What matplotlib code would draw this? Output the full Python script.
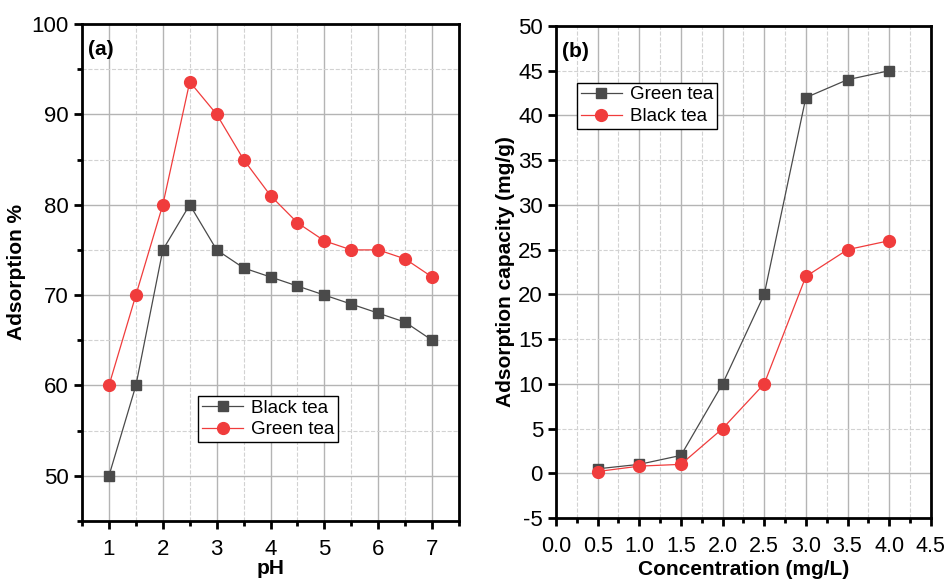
import matplotlib.pyplot as plt
import numpy as np
from matplotlib.ticker import MultipleLocator, FormatStrFormatter

plt.rcParams['font.family'] = ['Liberation Sans', 'DejaVu Sans']
plt.rcParams['axes.unicode_minus'] = False

# panel (a): adsorption % vs pH
ph = [1, 1.5, 2, 2.5, 3, 3.5, 4, 4.5, 5, 5.5, 6, 6.5, 7]
black_a = [50, 60, 75, 80, 75, 73, 72, 71, 70, 69, 68, 67, 65]
green_a = [60, 70, 80, 93.6, 90, 85, 81, 78, 76, 75, 75, 74, 72]

# panel (b): adsorption capacity vs concentration
conc = [0.5, 1.0, 1.5, 2.0, 2.5, 3.0, 3.5, 4.0]
green_b = [0.5, 1.0, 2.0, 10, 20, 42, 44, 45]
black_b = [0.2, 0.8, 1.0, 5, 10, 22, 25, 26]

gray = '#4a4a4a'
red = '#f03c3c'

fig = plt.figure(figsize=(9.44, 5.81), dpi=100)
ax1 = fig.add_axes([0.0869, 0.1033, 0.3994, 0.8554])
ax2 = fig.add_axes([0.589, 0.1084, 0.397, 0.8468])


def style(ax):
    ax.grid(True, which='major', color='#b4b4b4', linewidth=1.0)
    ax.grid(True, which='minor', color='#d2d2d2', linewidth=0.8, linestyle='--')
    ax.set_axisbelow(True)
    for s in ax.spines.values():
        s.set_linewidth(2)
    ax.tick_params(which='major', direction='out', length=6, width=2, labelsize=16)
    ax.tick_params(which='minor', direction='out', length=3.5, width=2)
    ax.tick_params(axis='x', which='both', pad=7)


ax1.plot(ph, black_a, color=gray, marker='s', markersize=7, linewidth=0.9, label='Black tea')
ax1.plot(ph, green_a, color=red, marker='o', markersize=8.5, linewidth=0.9, label='Green tea')
ax1.set_xlim(0.5, 7.5)
ax1.set_ylim(45, 100)
ax1.xaxis.set_major_locator(MultipleLocator(1))
ax1.xaxis.set_minor_locator(MultipleLocator(0.5))
ax1.yaxis.set_major_locator(MultipleLocator(10))
ax1.yaxis.set_minor_locator(MultipleLocator(5))
style(ax1)
ax1.set_xlabel('pH', fontsize=15, fontweight='bold', labelpad=-1)
ax1.set_ylabel('Adsorption %', fontsize=15, fontweight='bold', labelpad=4)
ax1.text(0.015, 0.967, '(a)', transform=ax1.transAxes, fontsize=15, fontweight='bold', va='top')
leg1 = ax1.legend(loc='upper left', bbox_to_anchor=(0.308, 0.252), fontsize=13.5, frameon=True,
                  fancybox=False, edgecolor='black', framealpha=1, borderpad=0.2,
                  handlelength=2.2, handletextpad=0.4, labelspacing=0.25, borderaxespad=0)
leg1.get_frame().set_linewidth(1)

ax2.plot(conc, green_b, color=gray, marker='s', markersize=7, linewidth=0.9, label='Green tea')
ax2.plot(conc, black_b, color=red, marker='o', markersize=8.5, linewidth=0.9, label='Black tea')
ax2.set_xlim(0, 4.5)
ax2.set_ylim(-5, 50)
ax2.xaxis.set_major_locator(MultipleLocator(0.5))
ax2.xaxis.set_minor_locator(MultipleLocator(0.25))
ax2.xaxis.set_major_formatter(FormatStrFormatter('%.1f'))
ax2.yaxis.set_major_locator(MultipleLocator(10))
ax2.yaxis.set_minor_locator(MultipleLocator(5))
ax2.yaxis.set_minor_formatter(FormatStrFormatter('%d'))
style(ax2)
ax2.tick_params(axis='y', which='minor', length=6, labelsize=16)
ax2.tick_params(axis='x', which='major', labelsize=15.5)
ax2.set_xlabel('Concentration (mg/L)', fontsize=15, fontweight='bold', labelpad=2)
ax2.set_ylabel('Adsorption capacity (mg/g)', fontsize=15, fontweight='bold', labelpad=2)
ax2.text(0.015, 0.967, '(b)', transform=ax2.transAxes, fontsize=15, fontweight='bold', va='top')
leg2 = ax2.legend(loc='upper left', bbox_to_anchor=(0.056, 0.885), fontsize=13.5, frameon=True,
                  fancybox=False, edgecolor='black', framealpha=1, borderpad=0.2,
                  handlelength=2.2, handletextpad=0.4, labelspacing=0.25, borderaxespad=0)
leg2.get_frame().set_linewidth(1)

fig.savefig('out.png', dpi=100)
